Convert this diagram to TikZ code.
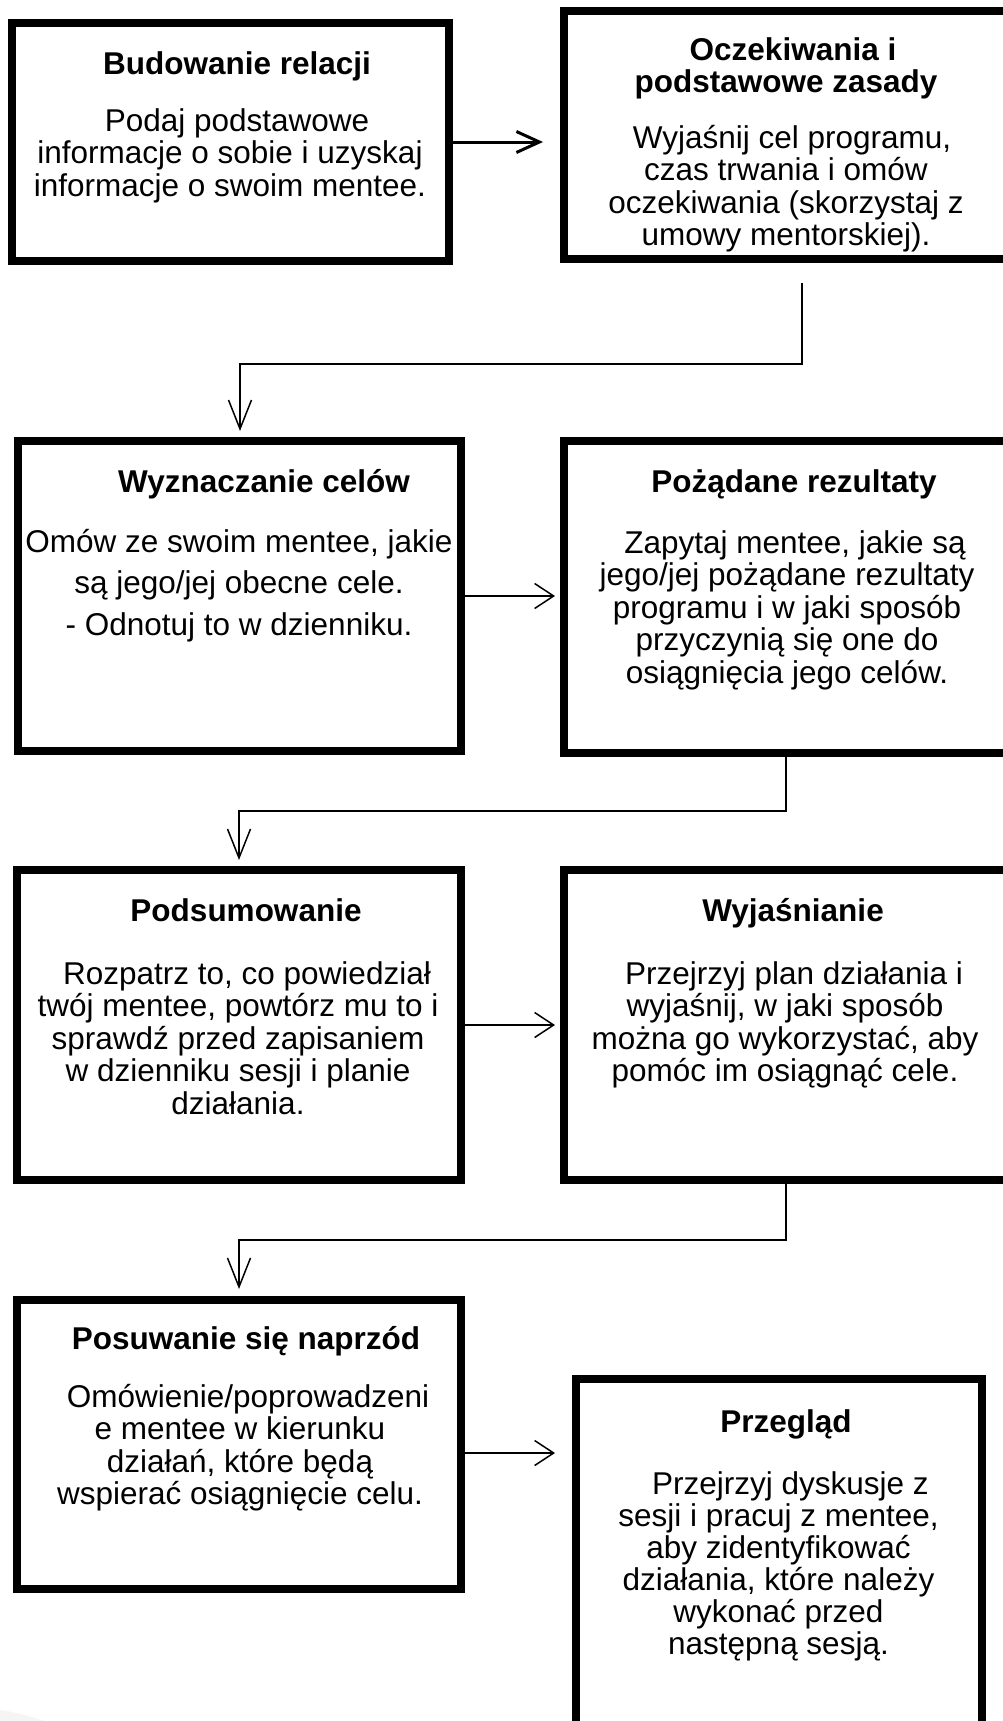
\documentclass[tikz,border=0pt]{standalone}
\usepackage{fontspec}
\setmainfont{Liberation Sans}
\usetikzlibrary{arrows.meta,calc}
\newcommand\stk[1]{\vtop{\halign{\hfil##\hfil\cr#1\crcr}}}
\newcommand\shiftln[2]{\kern#1pt#2\kern-#1pt}
\begin{document}
\begin{tikzpicture}[x=1pt,y=-1pt,
  box/.style={draw, line width=8pt, rectangle, inner sep=0pt, outer sep=0pt},
  ttl/.style={anchor=base, inner sep=0pt, font=\fontsize{31.5}{32.5}\selectfont\bfseries},
  bdy/.style={anchor=base, inner sep=0pt, font=\fontsize{31.5}{32.5}\selectfont},
  bdywide/.style={anchor=base, inner sep=0pt, font=\fontsize{31.5}{41.5}\selectfont},
  thickarr/.style={line width=3pt, -{Straight Barb[length=23pt,width=21pt]}},
  harr/.style={line width=1.5pt, -{Straight Barb[length=19pt,width=25pt]}},
  varr/.style={line width=1.5pt, -{Straight Barb[length=29pt,width=23pt]}}]
\useasboundingbox (0,0) rectangle (1003,1721);
\clip (0,0) rectangle (1003,1721);
\fill[gray!8] (0,1710) .. controls (15,1712) and (30,1716) .. (44,1721) -- (0,1721) -- cycle;

% boxes
\node[box, minimum width=437pt, minimum height=238pt] (b1) at (230.5,142) {};
\node[box, minimum width=456pt, minimum height=248pt] (b2) at (792,135) {};
\node[box, minimum width=443pt, minimum height=310pt] (b3) at (239.5,596) {};
\node[box, minimum width=456pt, minimum height=312pt] (b4) at (792,597) {};
\node[box, minimum width=444pt, minimum height=310pt] (b5) at (239,1025) {};
\node[box, minimum width=456pt, minimum height=310pt] (b6) at (792,1025) {};
\node[box, minimum width=444pt, minimum height=289pt] (b7) at (239,1444.5) {};
\node[box, minimum width=406pt, minimum height=381pt] (b8) at (779,1569.5) {};

% texts
\node[ttl] (t1) at (237,74) {Budowanie relacji};
\node[bdy] (d1) at (230,131) {\stk{\shiftln{7}{Podaj podstawowe}\cr informacje o sobie i uzyskaj\cr informacje o swoim mentee.}};

\node[ttl] (t2) at (786,60) {\stk{\shiftln{7}{Oczekiwania i}\cr podstawowe zasady}};
\node[bdy] (d2) at (786,148) {\stk{\shiftln{6}{Wyjaśnij cel programu,}\cr czas trwania i omów\cr oczekiwania (skorzystaj z\cr umowy mentorskiej).}};

\node[ttl] (t3) at (264,492) {Wyznaczanie celów};
\node[bdywide] (d3) at (239,552) {\stk{Omów ze swoim mentee, jakie\cr są jego/jej obecne cele.\cr - Odnotuj to w dzienniku.}};

\node[ttl] (t4) at (794,492) {Pożądane rezultaty};
\node[bdy] (d4) at (787,553) {\stk{\shiftln{8}{Zapytaj mentee, jakie są}\cr jego/jej pożądane rezultaty\cr programu i w jaki sposób\cr przyczynią się one do\cr osiągnięcia jego celów.}};

\node[ttl] (t5) at (246,921) {Podsumowanie};
\node[bdy] (d5) at (238,984) {\stk{\shiftln{9}{Rozpatrz to, co powiedział}\cr twój mentee, powtórz mu to i\cr sprawdź przed zapisaniem\cr w dzienniku sesji i planie\cr działania.}};

\node[ttl] (t6) at (793,921) {Wyjaśnianie};
\node[bdy] (d6) at (785,984) {\stk{\shiftln{9}{Przejrzyj plan działania i}\cr wyjaśnij, w jaki sposób\cr można go wykorzystać, aby\cr pomóc im osiągnąć cele.}};

\node[ttl] (t7) at (246,1349) {Posuwanie się naprzód};
\node[bdy] (d7) at (240,1407) {\stk{\shiftln{8}{Omówienie/poprowadzeni}\cr e mentee w kierunku\cr działań, które będą\cr wspierać osiągnięcie celu.}};

\node[ttl] (t8) at (786,1432) {Przegląd};
\node[bdy, font=\fontsize{31.5}{32}\selectfont] (d8) at (778.5,1494) {\stk{\shiftln{12}{Przejrzyj dyskusje z}\cr sesji i pracuj z mentee,\cr aby zidentyfikować\cr działania, które należy\cr wykonać przed\cr następną sesją.}};

% horizontal connectors
\draw[thickarr, shorten >=21pt] (b1.east) -- (b1.east -| b2.west);
\draw[harr, shorten >=9pt] (b3.east) -- (b3.east -| b4.west);
\draw[harr, shorten >=9pt] (b5.east) -- (b5.east -| b6.west);
\draw[harr, shorten >=21pt] (b7.east) ++(0,8.5) coordinate (a4s) -- (a4s -| b8.west);

% elbow connectors
\coordinate (k1) at (802,283);
\coordinate (k1b) at (240,364);
\draw[varr, shorten >=10pt] (k1) |- (k1b) -- (k1b |- b3.north);
\coordinate (k2) at (786,757);
\coordinate (k2b) at (239,811);
\draw[varr, shorten >=10pt] (k2) |- (k2b) -- (k2b |- b5.north);
\coordinate (k3) at (786,1184);
\coordinate (k3b) at (239,1240);
\draw[varr, shorten >=11pt] (k3) |- (k3b) -- (k3b |- b7.north);
\end{tikzpicture}
\end{document}
